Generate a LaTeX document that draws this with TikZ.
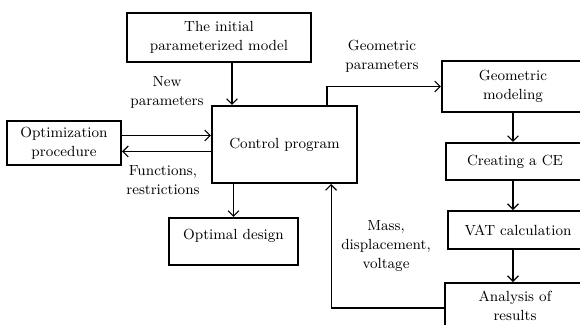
\documentclass[tikz,border=0pt]{standalone}
\usetikzlibrary{positioning,shapes,arrows,arrows.meta}

\tikzset{
  every node/.style={font=\fontsize{9.4}{12.2}\selectfont},
  block/.style={draw,line width=1.3pt,align=center,inner sep=2pt},
  lbl/.style={align=center,inner sep=0pt},
  link/.style={->,line width=0.7pt,>={Straight Barb[length=3.5pt,width=7pt]}}
}

\begin{document}
\begin{tikzpicture}[x=0.64pt,y=-0.64pt]
            \useasboundingbox (0,0) rectangle (580,324);
            % boxes
            \node[block,minimum width=117.8pt,minimum height=31.4pt] (init) at (219,37.5) {The initial\\parameterized model};
            \node[block,minimum width=73pt,minimum height=28.2pt] (opt) at (64,143) {Optimization\\procedure};
            \node[block,minimum width=92.8pt,minimum height=49.3pt] (ctrl) at (284.5,144.5) {Control program};
            \node[block,minimum width=82.6pt,text height=11.9pt,text depth=14.2pt] (design) at (233.5,241.5) {Optimal design};
            \node[block,minimum width=90.9pt,minimum height=32.6pt] (geom) at (513,86.5) {Geometric\\modeling};
            \node[block,minimum width=88.3pt,minimum height=23.7pt] (ce) at (515,161.5) {Creating a CE};
            \node[block,minimum width=89.6pt,minimum height=24.3pt] (vat) at (518,230) {VAT calculation};
            \node[block,minimum width=89.6pt,minimum height=29.4pt] (res) at (515,306) {Analysis of\\results};
            % labels
            \node[lbl] (newp) at (167,92) {New\\parameters};
            \node[lbl] (func) at (163,180.5) {Functions,\\restrictions};
            \node[lbl] (geop) at (382,56) {Geometric\\parameters};
            \node[lbl] (mass) at (386,246) {Mass,\\displacement,\\voltage};
            % links
            \coordinate (a1) at (232,0);
            \draw[link] (init.south -| a1) -- (ctrl.north -| a1);
            \draw[link] ([yshift=4.8pt]opt.east) -- ([yshift=4.8pt]opt.east -| ctrl.west);
            \draw[link] ([yshift=-5.4pt]opt.east -| ctrl.west) -- ([yshift=-5.4pt]opt.east);
            \draw[link] (ctrl.south -| design.north) -- (design.north);
            \draw[link] ([xshift=27.2pt]ctrl.north) |- (geom.west);
            \draw[link] (geom.south) -- (ce.north -| geom.south);
            \draw[link] (ce.south -| geom.south) -- (vat.north -| geom.south);
            \draw[link] (vat.south -| geom.south) -- (res.north -| geom.south);
            \draw[link] ([yshift=-1.3pt]res.west) -| ([xshift=29.8pt]ctrl.south);
        \end{tikzpicture}
\end{document}
